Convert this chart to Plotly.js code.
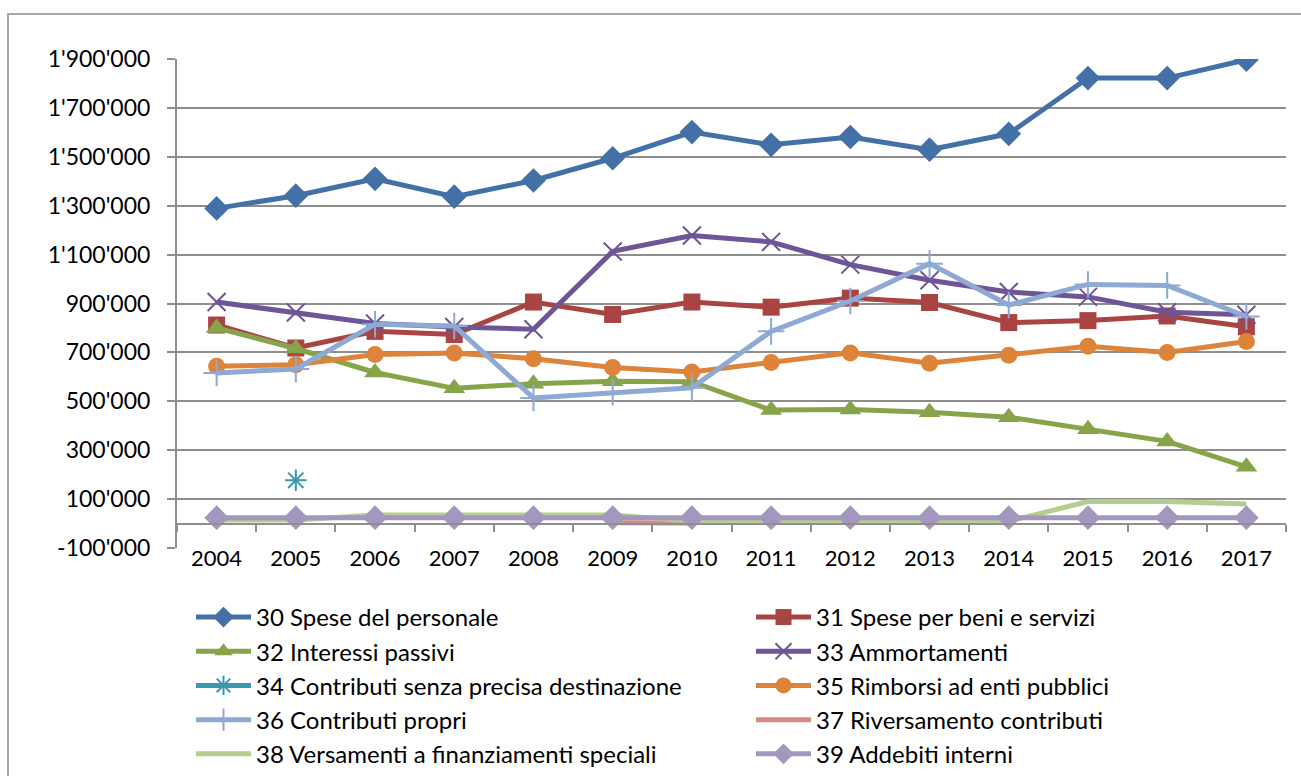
<!DOCTYPE html>
<html>
<head>
<meta charset="utf-8">
<script src="https://cdn.plot.ly/plotly-3.0.1.min.js"></script>
<style>
  html, body { margin: 0; padding: 0; background: #ffffff; overflow: hidden; }
  #chart { width: 1301px; height: 776px; position: relative; }
  #frame { position: absolute; left: 7px; top: 13px; width: 1400px; height: 900px;
           border: 2px solid #a6a6a6; pointer-events: none; box-sizing: border-box; }
</style>
</head>
<body>
<div id="chart"></div>
<div id="frame"></div>
<script>
// ---- data ----
const years = ['2004','2005','2006','2007','2008','2009','2010','2011','2012','2013','2014','2015','2016','2017'];

const names = [
  '30 Spese del personale',
  '31 Spese per beni e servizi',
  '32 Interessi passivi',
  '33 Ammortamenti',
  '34 Contributi senza precisa destinazione',
  '35 Rimborsi ad enti pubblici',
  '36 Contributi propri',
  '37 Riversamento contributi',
  '38 Versamenti a finanziamenti speciali',
  '39 Addebiti interni'
];

const s30 = [1289000, 1341000, 1410000, 1337000, 1403000, 1494000, 1601000, 1549000, 1581000, 1529000, 1594000, 1822000, 1822000, 1897000];
const s31 = [812000, 718000, 786000, 773000, 906000, 855000, 906000, 885000, 922000, 904000, 822000, 830000, 849000, 805000];
const s32 = [800000, 716000, 618000, 553000, 572000, 582000, 580000, 464000, 466000, 455000, 435000, 386000, 336000, 232000];
const s33 = [906000, 863000, 818000, 804000, 795000, 1113000, 1178000, 1152000, 1059000, 995000, 947000, 927000, 864000, 854000];
const s34 = [null, 177000, null, null, null, null, null, null, null, null, null, null, null, null];
const s35 = [643000, 650000, 691000, 698000, 674000, 638000, 620000, 659000, 698000, 656000, 688000, 725000, 700000, 745000];
const s36 = [616000, 632000, 815000, 808000, 514000, 537000, 555000, 786000, 910000, 1063000, 894000, 978000, 974000, 847000];
const s37 = [null, null, null, null, null, 3000, 2000, null, null, null, null, null, null, null];
const s38 = [15000, 15000, 35000, 35000, 35000, 35000, 9000, 9000, 9000, 9000, 9000, 90000, 90000, 80000];
const s39 = [24000, 24000, 24000, 24000, 24000, 24000, 24000, 24000, 24000, 24000, 24000, 24000, 24000, 24000];

const yTickVals = [-100000, 100000, 300000, 500000, 700000, 900000, 1100000, 1300000, 1500000, 1700000, 1900000];

// ---- helpers ----
function fmt(v) {
  const neg = v < 0;
  const s = String(Math.abs(v)).replace(/\B(?=(\d{3})+(?!\d))/g, "'");
  return (neg ? '-' : '') + s;
}
const yTickText = yTickVals.map(fmt);

const series = [s30, s31, s32, s33, s34, s35, s36, s37, s38, s39];
const colors = ['#4470A8', '#A94442', '#87A44A', '#6E5596', '#3D97AF', '#DE833A', '#8DA9D4', '#D48B88', '#B5CD8E', '#A397BF'];
const symbols = ['diamond', 'square', 'triangle-up', 'x-thin-open', 'asterisk-open', 'circle', 'cross-thin-open', null, null, 'diamond'];
const sizes = [19, 17, 19, 18, 18, 17, 19, 0, 0, 19];

const traces = series.map((vals, i) => {
  const t = {
    type: 'scatter',
    x: years,
    y: vals,
    name: names[i],
    legend: (i % 2 === 0) ? 'legend' : 'legend2',
    line: { color: colors[i], width: 5 },
    connectgaps: false,
    hoverinfo: 'x+y+name'
  };
  if (symbols[i]) {
    t.mode = 'lines+markers';
    const thin = symbols[i].indexOf('open') >= 0;
    t.marker = {
      symbol: symbols[i],
      size: sizes[i],
      color: colors[i],
      line: { color: colors[i], width: thin ? 2 : 0 }
    };
  } else {
    t.mode = 'lines';
  }
  return t;
});

// helper trace for the category axis drawn at y = 0
traces.push({
  type: 'scatter', x: [], y: [], xaxis: 'x2', yaxis: 'y',
  showlegend: false, hoverinfo: 'skip', mode: 'lines'
});

const boundaryTicks = years.map((_, i) => i + 0.5);
boundaryTicks.unshift(-0.5);

const axisGray = '#8e8e8e';
const fontFam = 'Lato, "Liberation Sans", sans-serif';

const legendBase = {
  orientation: 'v',
  xanchor: 'left',
  y: -0.096,
  yanchor: 'top',
  itemwidth: 55,
  font: { family: fontFam, size: 24, color: '#000' },
  bgcolor: 'rgba(0,0,0,0)',
  traceorder: 'normal',
  tracegroupgap: 0
};

const layout = {
  width: 1301,
  height: 776,
  margin: { l: 177, r: 15, t: 59, b: 228, pad: 0, autoexpand: false },
  paper_bgcolor: 'rgba(0,0,0,0)',
  plot_bgcolor: '#ffffff',
  font: { family: fontFam, size: 22, color: '#000000' },
  showlegend: true,
  xaxis: {
    type: 'category',
    range: [-0.5, 13.5],
    showgrid: false,
    zeroline: false,
    showline: false,
    ticks: '',
    ticklabelstandoff: -5,
    tickfont: { family: fontFam, size: 22, color: '#000' },
    fixedrange: true
  },
  xaxis2: {
    overlaying: 'x',
    anchor: 'free',
    position: 100000 / 2000000,
    range: [-0.5, 13.5],
    showgrid: false,
    zeroline: false,
    showline: true,
    linecolor: axisGray,
    linewidth: 2,
    ticks: 'outside',
    ticklen: 7,
    tickwidth: 2,
    tickcolor: axisGray,
    tickvals: boundaryTicks,
    showticklabels: false,
    fixedrange: true
  },
  yaxis: {
    range: [-100000, 1900000],
    tickvals: yTickVals,
    ticktext: yTickText,
    showgrid: true,
    gridcolor: axisGray,
    gridwidth: 2,
    zeroline: false,
    showline: true,
    linecolor: axisGray,
    linewidth: 2,
    ticks: 'outside',
    ticklen: 8,
    tickwidth: 2,
    tickcolor: axisGray,
    ticklabelstandoff: 12,
    tickfont: { family: fontFam, size: 23, color: '#000' },
    fixedrange: true
  },
  legend: Object.assign({}, legendBase, { x: (191 - 177) / 1109 }),
  legend2: Object.assign({}, legendBase, { x: (751 - 177) / 1109 })
};

Plotly.newPlot('chart', traces, layout, { displayModeBar: false, staticPlot: true });
</script>
</body>
</html>
